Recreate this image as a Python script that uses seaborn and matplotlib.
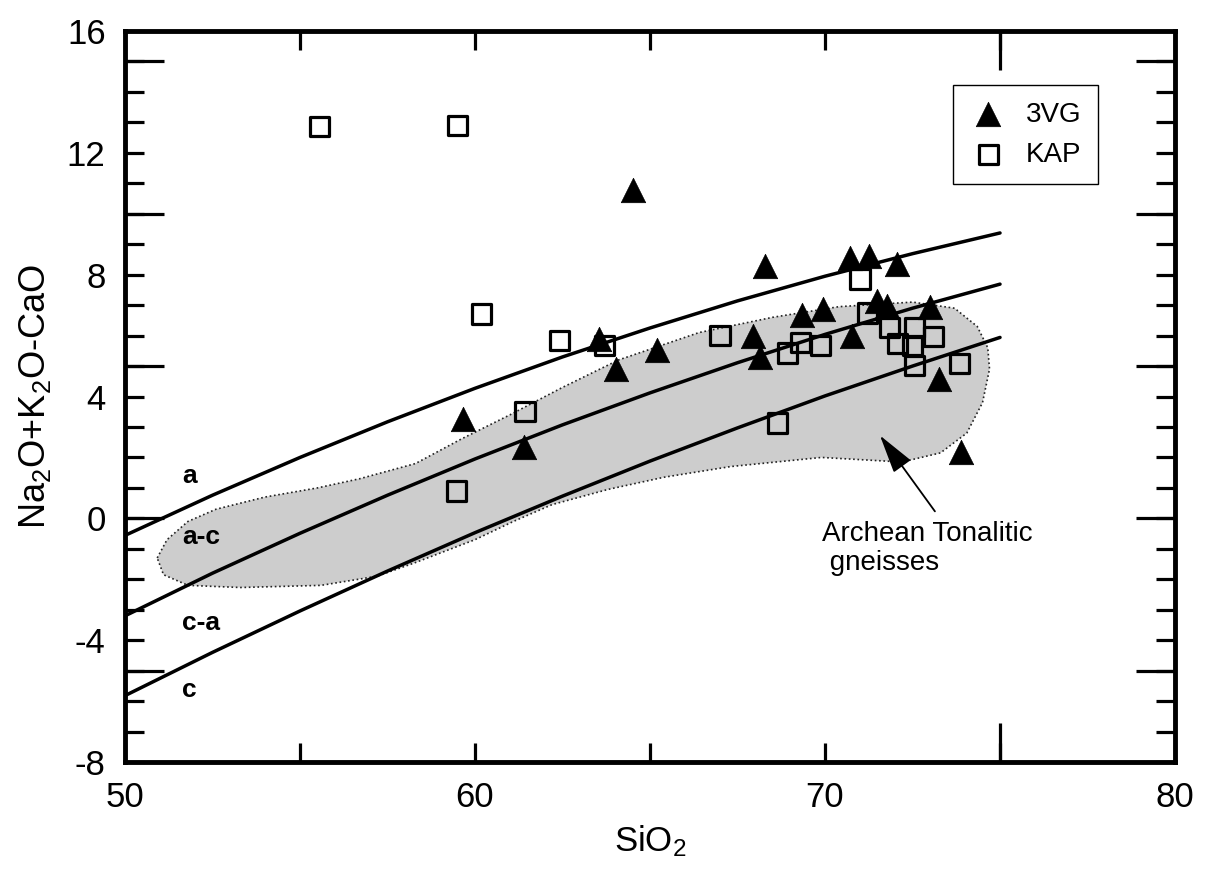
import numpy as np
import pandas as pd
import matplotlib
matplotlib.use("Agg")
import matplotlib.pyplot as plt
from matplotlib.ticker import FixedLocator, FuncFormatter
import seaborn as sns

# --- sample data: SiO2 (wt%) vs modified alkali-lime index Na2O+K2O-CaO ---
sio2_3vg = [59.65, 61.41, 63.54, 64.03, 64.52, 65.21, 67.93, 68.13, 68.28, 69.35,
            69.95, 70.71, 70.76, 71.27, 71.48, 71.78, 72.07, 73.00, 73.27, 73.89]
mali_3vg = [3.25, 2.34, 5.89, 4.91, 10.78, 5.52, 5.99, 5.31, 8.27, 6.68,
            6.88, 8.55, 6.00, 8.60, 7.15, 6.96, 8.36, 6.95, 4.58, 2.17]

sio2_kap = [55.55, 59.50, 59.46, 60.19, 61.43, 62.41, 63.69, 67.00, 68.65, 68.93,
            69.29, 69.88, 71.00, 71.21, 71.85, 72.07, 72.55, 72.50, 73.10, 72.55, 73.85]
mali_kap = [12.86, 12.91, 0.90, 6.71, 3.52, 5.84, 5.68, 6.01, 3.13, 5.43,
            5.76, 5.68, 7.86, 6.74, 6.28, 5.75, 6.26, 5.68, 5.97, 5.01, 5.09]

# --- field boundaries (alkalic / alkali-calcic / calc-alkalic / calcic) ---
bound_sio2 = [50, 52.5, 55, 57.5, 60, 62.5, 65, 67.5, 70, 72.5, 75]
bound_a_ac = [-0.56, 0.76, 2.00, 3.17, 4.27, 5.30, 6.25, 7.14, 7.95, 8.69, 9.37]
bound_ac_ca = [-3.20, -1.80, -0.49, 0.76, 1.95, 3.07, 4.12, 5.11, 6.04, 6.90, 7.69]
bound_ca_c = [-5.82, -4.40, -3.04, -1.73, -0.47, 0.73, 1.88, 2.97, 4.02, 5.00, 5.94]

field_labels = ["a", "a-c", "c-a", "c"]
field_label_y = [1.38, -0.62, -3.44, -5.64]

# --- outline of the Archean tonalitic gneiss field ---
gneiss_sio2 = [50.92, 51.2, 51.8, 52.6, 54.0, 55.5, 56.7, 58.3, 59.6, 61.0, 62.5,
               64.1, 66.4, 68.5, 70.4, 72.5, 73.7, 74.35, 74.65, 74.7, 74.5, 74.05,
               73.3, 72.2, 69.9, 67.3, 65.4, 63.8, 62.2, 61.1, 60.0, 58.3, 57.2,
               55.6, 53.3, 51.8, 51.1]
gneiss_mali = [-1.3, -0.7, -0.1, 0.3, 0.7, 1.0, 1.3, 1.8, 2.6, 3.4, 4.3,
               5.2, 6.1, 6.6, 6.95, 7.1, 6.9, 6.3, 5.6, 4.9, 3.8, 2.8,
               2.15, 1.85, 2.0, 1.7, 1.35, 0.95, 0.45, -0.1, -0.7, -1.45, -1.9,
               -2.2, -2.27, -2.2, -1.85]

y_labels = [-8, -4, 0, 4, 8, 12, 16]
x_labels = [50, 60, 70, 80]

sns.set_style("ticks")
plt.rcParams["font.family"] = ["Liberation Sans", "DejaVu Sans"]
plt.rcParams["mathtext.default"] = "regular"
plt.rcParams["text.color"] = "black"
plt.rcParams["axes.labelcolor"] = "black"
plt.rcParams["xtick.color"] = "black"
plt.rcParams["ytick.color"] = "black"
plt.rcParams["xtick.labelcolor"] = "black"
plt.rcParams["ytick.labelcolor"] = "black"

fig = plt.figure(figsize=(12.09, 8.69), dpi=100)
ax = fig.add_axes([0.1034, 0.1231, 0.8685, 0.8412])

# gneiss field
ax.fill(gneiss_sio2, gneiss_mali, facecolor="#cdcdcd", edgecolor="#222222",
        linestyle=(0, (1, 1.6)), linewidth=1.2, zorder=1)

# boundary curves
for yb in (bound_a_ac, bound_ac_ca, bound_ca_c):
    sns.lineplot(x=bound_sio2, y=yb, ax=ax, color="black", linewidth=2.5,
                 estimator=None, sort=False, zorder=2)

# data
sns.scatterplot(x=sio2_kap, y=mali_kap, ax=ax, marker="s", s=190,
                fc="none", ec="black", linewidth=2.3, zorder=3, label="KAP")
sns.scatterplot(x=sio2_3vg, y=mali_3vg, ax=ax, marker="^", s=310,
                color="black", ec="black", linewidth=0.5, zorder=4, label="3VG")

for lab, yy in zip(field_labels, field_label_y):
    ax.text(51.63, yy, lab, fontsize=19, fontweight="bold", ha="left", va="center")

ax.annotate("", xy=(71.57, 2.72), xytext=(73.14, 0.23),
            arrowprops=dict(arrowstyle="-|>,head_length=1.1,head_width=0.3",
                            color="black", lw=1.3, mutation_scale=22,
                            shrinkA=0, shrinkB=0))
ax.text(69.91, -0.1, "Archean Tonalitic\n gneisses", fontsize=20,
        ha="left", va="top", linespacing=1.15)

ax.set_xlim(50, 80)
ax.set_ylim(-8, 16)

# y ticks: every unit, long marks at multiples of five
ax.yaxis.set_major_locator(FixedLocator(np.arange(-8, 17, 1)))
ax.yaxis.set_major_formatter(FuncFormatter(lambda v, p: f"{int(round(v))}" if int(round(v)) in y_labels else ""))
ax.yaxis.set_minor_locator(FixedLocator([-5, 0, 5, 10, 15]))
ax.yaxis.remove_overlapping_locs = False

ax.xaxis.set_major_locator(FixedLocator(np.arange(50, 81, 5)))
ax.xaxis.set_major_formatter(FuncFormatter(lambda v, p: f"{int(round(v))}" if int(round(v)) in x_labels else ""))
ax.xaxis.set_minor_locator(FixedLocator([75]))
ax.xaxis.remove_overlapping_locs = False

ax.tick_params(which="major", direction="in", length=14, width=2.3, labelsize=25,
               pad=14, left=True, right=True, top=True, bottom=True, color="black",
               labelcolor="black")
ax.tick_params(which="minor", direction="in", length=28, width=2.3,
               left=True, right=True, top=True, bottom=True, color="black")
for s in ax.spines.values():
    s.set_linewidth(3.5)
    s.set_color("black")

ax.set_xlabel("SiO$_2$", fontsize=25, labelpad=6, color="black")
ax.set_ylabel("Na$_2$O+K$_2$O-CaO", fontsize=26, labelpad=10, color="black")

handles, labels = ax.get_legend_handles_labels()
order = [labels.index("3VG"), labels.index("KAP")]
leg = ax.legend([handles[i] for i in order], [labels[i] for i in order],
                loc="upper left", bbox_to_anchor=(0.789, 0.926), borderaxespad=0,
                fontsize=20, frameon=True, fancybox=False, edgecolor="black",
                framealpha=1, borderpad=0.6, labelspacing=0.5,
                handlelength=1.3, handletextpad=0.7)
leg.get_frame().set_linewidth(1.0)
for t in leg.get_texts():
    t.set_color("black")

fig.savefig("out.png", dpi=100, facecolor="white")
